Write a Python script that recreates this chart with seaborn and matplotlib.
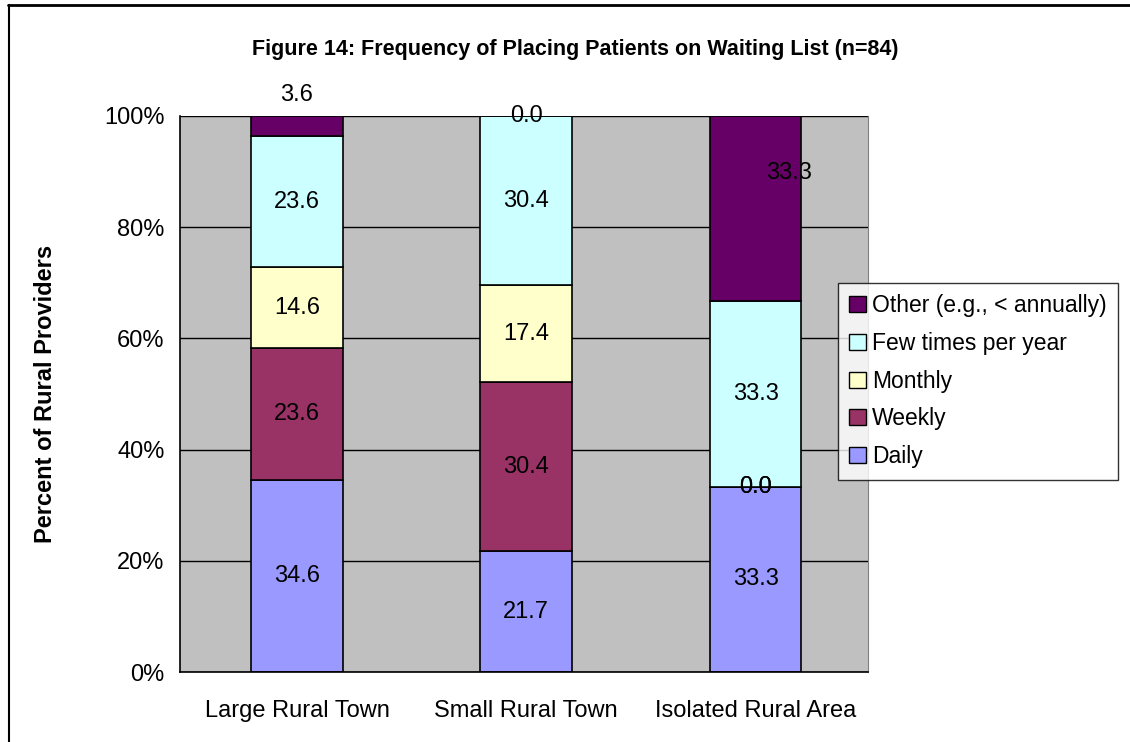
import pandas as pd
import numpy as np
import matplotlib
matplotlib.use("Agg")
import matplotlib.pyplot as plt
import seaborn as sns
from matplotlib.patches import Patch
from matplotlib.lines import Line2D

areas = ["Large Rural Town", "Small Rural Town", "Isolated Rural Area"]
freqs = ["Daily", "Weekly", "Monthly", "Few times per year", "Other (e.g., < annually)"]
daily = [34.6, 21.7, 33.3]
weekly = [23.6, 30.4, 0.0]
monthly = [14.6, 17.4, 0.0]
few = [23.6, 30.4, 33.3]
other = [3.6, 0.0, 33.3]
colors = ["#9999FF", "#993366", "#FFFFCC", "#CCFFFF", "#660066"]
yticks = [0, 20, 40, 60, 80, 100]

series = [daily, weekly, monthly, few, other]
df = pd.DataFrame({
    "area": np.repeat(areas, len(freqs)),
    "freq": freqs * len(areas),
    "pct": [series[j][i] for i in range(len(areas)) for j in range(len(freqs))],
})
df["area"] = pd.Categorical(df["area"], categories=areas, ordered=True)
df["x"] = df["area"].cat.codes

sns.set_style("white")
plt.rcParams["font.family"] = ["Liberation Sans", "DejaVu Sans"]
plt.rcParams["text.color"] = "black"
plt.rcParams["axes.labelcolor"] = "black"
plt.rcParams["xtick.color"] = "black"
plt.rcParams["ytick.color"] = "black"

fs = 17

fig = plt.figure(figsize=(11.3, 7.42), dpi=100)
ax = fig.add_axes([0.1593, 0.0943, 0.6088, 0.7494])
ax.set_facecolor("#C0C0C0")

palette = dict(zip(freqs, colors))
sns.histplot(data=df, x="x", weights="pct", hue="freq", hue_order=freqs[::-1],
             multiple="fill", discrete=True, shrink=0.4, palette=palette,
             alpha=1, edgecolor="black", linewidth=1.2, legend=False, ax=ax)

ax.set_xlim(-0.51, 2.49)
ax.set_ylim(0, 1)
ax.set_yticks([t / 100 for t in yticks])
ax.set_yticklabels([f"{t}%" for t in yticks], fontsize=fs)
ax.set_xticks(range(len(areas)))
ax.set_xticklabels(areas, fontsize=fs)
ax.set_xticks([-0.51, 0.49, 1.49, 2.49], minor=True)
ax.tick_params(axis="x", which="major", length=0, pad=20)
ax.tick_params(axis="x", which="minor", length=7, width=1, color="black", direction="out")
ax.tick_params(axis="y", length=7, width=1, color="black", direction="out", pad=4)
ax.yaxis.grid(True, color="black", linewidth=1)
ax.set_axisbelow(True)
ax.set_xlabel("")
ax.set_ylabel("Percent of Rural Providers", fontsize=fs, fontweight="bold", labelpad=34)
for s in ["left", "bottom"]:
    ax.spines[s].set_color("black")
    ax.spines[s].set_linewidth(1.2)
ax.spines["top"].set_visible(False)
ax.spines["right"].set_color("#808080")

# value labels at segment centres (Excel-style displacement for a couple)
shift = {(0, 4): (0, 31), (2, 4): (33, 36)}
for i in range(len(areas)):
    vals = [s[i] for s in series]
    tot = sum(vals)
    base = 0
    for j, v in enumerate(vals):
        h = v / tot
        dx, dy = shift.get((i, j), (0, 0))
        ax.annotate(f"{v:.1f}", (i, base + h / 2), xytext=(dx, dy),
                    textcoords="offset pixels", ha="center", va="center",
                    fontsize=fs, color="black")
        base += h

handles = [Patch(facecolor=c, edgecolor="black", linewidth=1) for c in colors][::-1]
leg = fig.legend(handles, freqs[::-1], loc="upper left", bbox_to_anchor=(0.7416, 0.6186),
                 fontsize=16.5, frameon=True, fancybox=False, edgecolor="black",
                 handlelength=0.7, handleheight=0.7, handletextpad=0.3,
                 labelspacing=0.64, borderpad=0.5, borderaxespad=0)
leg.get_frame().set_linewidth(1)

fig.suptitle("Figure 14: Frequency of Placing Patients on Waiting List (n=84)",
             x=0.509, y=0.948, fontsize=15.5, fontweight="bold")

fig.add_artist(Line2D([0.007, 1], [0.993, 0.993], color="black", linewidth=2,
                      transform=fig.transFigure))
fig.add_artist(Line2D([0.008, 0.008], [0, 0.993], color="black", linewidth=1.5,
                      transform=fig.transFigure))

fig.savefig("out.png", dpi=100)
